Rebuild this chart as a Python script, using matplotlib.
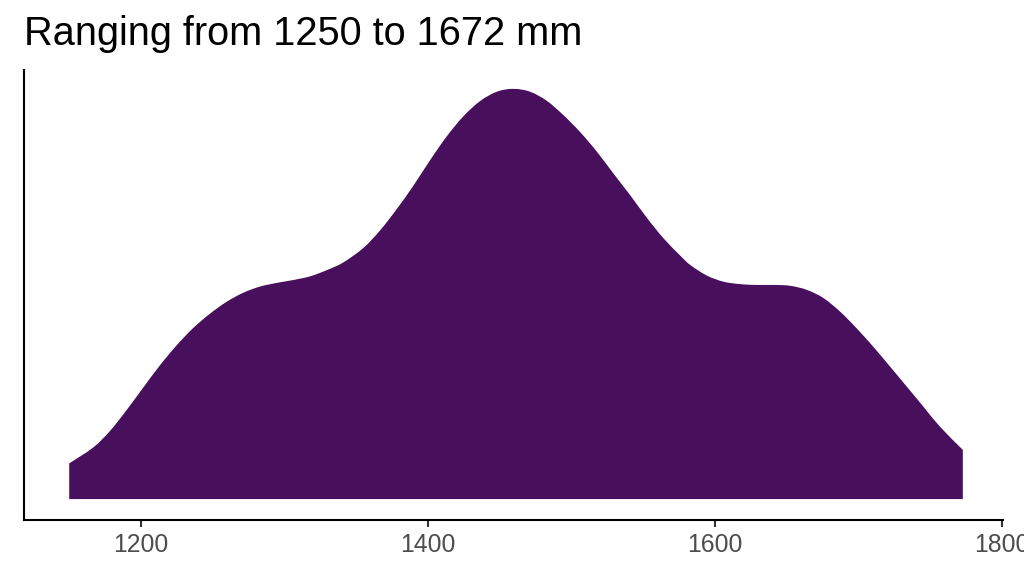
import matplotlib
matplotlib.use("Agg")
import matplotlib.pyplot as plt
from matplotlib.path import Path
from matplotlib.patches import PathPatch

title = "Ranging from 1250 to 1672 mm"

height_mm = [1150, 1166.8, 1178.4, 1190.0, 1201.6, 1213.2, 1224.9, 1236.4, 1248.1, 1259.7,
             1271.3, 1282.9, 1294.6, 1306.1, 1317.8, 1329.4, 1341.0, 1354.9, 1366.6, 1378.2,
             1389.8, 1401.4, 1413.0, 1424.6, 1436.2, 1447.9, 1459.4, 1471.1, 1482.7, 1494.3,
             1505.9, 1517.6, 1529.1, 1540.8, 1552.4, 1564.0, 1575.6, 1582.6, 1594.2, 1605.8,
             1617.4, 1629.1, 1640.6, 1652.3, 1663.9, 1675.5, 1687.1, 1698.7, 1710.3, 1721.9,
             1733.6, 1745.2, 1756.8, 1772.6]
density = [0.087, 0.126, 0.166, 0.217, 0.272, 0.326, 0.375, 0.417, 0.452, 0.481,
           0.503, 0.518, 0.527, 0.534, 0.543, 0.558, 0.577, 0.612, 0.655, 0.707,
           0.764, 0.826, 0.884, 0.933, 0.970, 0.993, 1.000, 0.993, 0.971, 0.936,
           0.895, 0.847, 0.794, 0.741, 0.686, 0.636, 0.594, 0.571, 0.545, 0.530,
           0.524, 0.522, 0.522, 0.520, 0.510, 0.490, 0.457, 0.416, 0.371, 0.323,
           0.274, 0.225, 0.176, 0.120]
x_ticks = [1200, 1400, 1600, 1800]

plt.rcParams['font.family'] = ['Liberation Sans', 'DejaVu Sans']

fig = plt.figure(figsize=(10.24, 5.76), dpi=100)
ax = fig.add_axes([24/1024, 56/576, (1003-24)/1024, 450/576])

# smooth outline through the read points (Catmull-Rom as cubic Bezier segments)
n = len(height_mm)
verts = [(height_mm[0], 0.0), (height_mm[0], density[0])]
codes = [Path.MOVETO, Path.LINETO]
for i in range(n - 1):
    p0 = (height_mm[max(i - 1, 0)], density[max(i - 1, 0)])
    p1 = (height_mm[i], density[i])
    p2 = (height_mm[i + 1], density[i + 1])
    p3 = (height_mm[min(i + 2, n - 1)], density[min(i + 2, n - 1)])
    c1 = (p1[0] + (p2[0] - p0[0]) / 6, p1[1] + (p2[1] - p0[1]) / 6)
    c2 = (p2[0] - (p3[0] - p1[0]) / 6, p2[1] - (p3[1] - p1[1]) / 6)
    verts += [c1, c2, p2]
    codes += [Path.CURVE4] * 3
verts += [(height_mm[-1], 0.0), (height_mm[0], 0.0)]
codes += [Path.LINETO, Path.CLOSEPOLY]
ax.add_patch(PathPatch(Path(verts, codes), facecolor="#480F5C", edgecolor="none", lw=0))

ax.set_xlim(1118.5, 1800.6)
ax.set_ylim(-0.051, 1.046)
ax.set_xticks(x_ticks)
ax.set_xticklabels([str(t) for t in x_ticks])
ax.set_yticks([])

for s in ["top", "right"]:
    ax.spines[s].set_visible(False)
for s in ["left", "bottom"]:
    ax.spines[s].set_linewidth(1.5)
    ax.spines[s].set_color("black")

ax.tick_params(axis="x", length=5, width=1.5, color="#333333", labelcolor="#4D4D4D",
               labelsize=17.8, pad=4)

fig.text(24/1024, 1 - 45/576, title, fontsize=28.6, color="black", ha="left", va="baseline")

fig.savefig("out.png", dpi=100)
